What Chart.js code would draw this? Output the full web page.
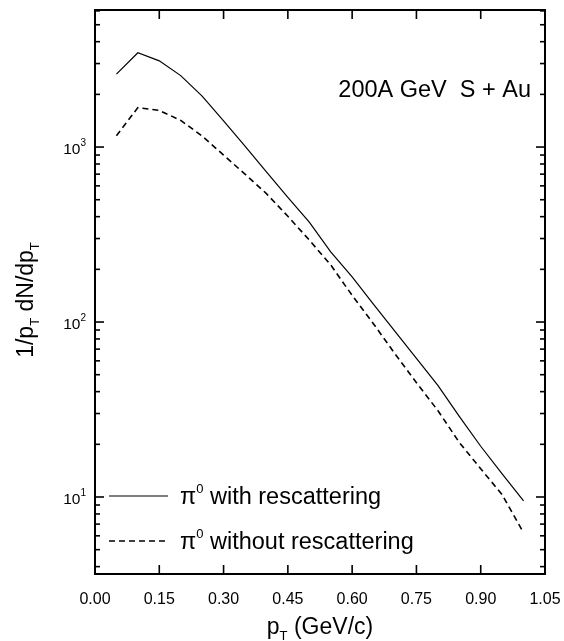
<!DOCTYPE html>
<html>
<head>
<meta charset="utf-8">
<script src="https://cdn.jsdelivr.net/npm/chart.js@4.4.1/dist/chart.umd.min.js"></script>
<style>
html, body { margin: 0; padding: 0; background: #fff; }
#wrap { width: 564px; height: 641px; }
</style>
</head>
<body>
<div id="wrap"><canvas id="graficaPiones" width="564" height="641"></canvas></div>
<script>
// datos
const pt = [0.05, 0.10, 0.15, 0.20, 0.25, 0.30, 0.35, 0.40, 0.45, 0.50,
            0.55, 0.60, 0.65, 0.70, 0.75, 0.80, 0.85, 0.90, 0.95, 1.00];
const conRescattering = [2610, 3460, 3110, 2560, 1955, 1413, 1011, 721, 516, 372,
                         252, 181, 126, 88.5, 61.9, 43.4, 28.9, 19.5, 13.55, 9.5];
const sinRescattering = [1160, 1680, 1620, 1420, 1156, 900, 700, 542, 402, 294,
                         212, 142, 97.5, 65.8, 45, 31.2, 20.5, 14.5, 10.3, 6.25];
const xTicks = [0, 0.15, 0.30, 0.45, 0.60, 0.75, 0.90, 1.05];
const yDecadas = [1, 10, 100, 1000];
const yEtiquetas = [10, 100, 1000];

const FUENTE = '"Liberation Sans", Arial, sans-serif';

const canvas = document.getElementById('graficaPiones');
const ctx = canvas.getContext('2d');

// texto con superindice o subindice
const textoPartes = (c, partes, x, y, align) => {
    let ancho = 0;
    partes.forEach(p => {
        c.font = p.size + 'px ' + FUENTE;
        ancho += c.measureText(p.t).width;
    });
    let cx = align === 'right' ? x - ancho : align === 'center' ? x - ancho / 2 : x;
    partes.forEach(p => {
        c.font = p.size + 'px ' + FUENTE;
        c.fillText(p.t, cx, y + (p.dy || 0));
        cx += c.measureText(p.t).width;
    });
};

const linea = (c, x1, y1, x2, y2) => {
    c.beginPath();
    c.moveTo(x1, y1);
    c.lineTo(x2, y2);
    c.stroke();
};

const marcoEjes = {
    id: 'marcoEjes',
    afterDraw(chart) {
        const { ctx: c, chartArea: a, scales: { x, y } } = chart;
        c.save();
        c.strokeStyle = '#000';
        c.fillStyle = '#000';
        c.lineWidth = 2;
        c.strokeRect(a.left, a.top, a.right - a.left, a.bottom - a.top);

        // ticks eje x (hacia adentro, arriba y abajo)
        c.lineWidth = 1.6;
        c.textBaseline = 'alphabetic';
        xTicks.forEach(v => {
            const px = x.getPixelForValue(v);
            linea(c, px, a.bottom, px, a.bottom - 9);
            linea(c, px, a.top, px, a.top + 9);
            textoPartes(c, [{ t: v.toFixed(2), size: 16 }], px, 604, 'center');
        });

        // ticks eje y logaritmico
        yDecadas.forEach(d => {
            for (let m = 1; m <= 9; m++) {
                const v = m * d;
                if (v < y.min || v > y.max) continue;
                const py = y.getPixelForValue(v);
                const largo = m === 1 ? 9 : 5;
                linea(c, a.left, py, a.left + largo, py);
                linea(c, a.right, py, a.right - largo, py);
            }
        });
        yEtiquetas.forEach(v => {
            const py = y.getPixelForValue(v);
            const exp = String(Math.round(Math.log10(v)));
            textoPartes(c, [{ t: '10', size: 15.5 }, { t: exp, size: 10, dy: -8 }], 86, py + 7, 'right');
        });

        // titulos de ejes
        textoPartes(c, [{ t: 'p', size: 23 }, { t: 'T', size: 13, dy: 6 }, { t: ' (GeV/c)', size: 23 }], 320, 634, 'center');
        c.save();
        c.translate(33, 300);
        c.rotate(-Math.PI / 2);
        textoPartes(c, [{ t: '1/p', size: 23 }, { t: 'T', size: 13, dy: 6 }, { t: ' dN/dp', size: 23 }, { t: 'T', size: 13, dy: 6 }], 0, 0, 'center');
        c.restore();

        // anotacion
        textoPartes(c, [{ t: '200A GeV  S + Au', size: 23.5 }], 531, 97, 'right');

        // leyenda
        c.lineWidth = 1.2;
        linea(c, 109, 496, 168, 496);
        c.lineWidth = 1.6;
        c.setLineDash([6, 4]);
        linea(c, 109, 541, 168, 541);
        c.setLineDash([]);
        textoPartes(c, [{ t: 'π', size: 23.5 }, { t: '0', size: 13, dy: -11 }, { t: ' with rescattering', size: 23.5 }], 180, 504, 'left');
        textoPartes(c, [{ t: 'π', size: 23.5 }, { t: '0', size: 13, dy: -11 }, { t: ' without rescattering', size: 23.5 }], 180, 549, 'left');
        c.restore();
    }
};

const chartPiones = new Chart(ctx, {
    type: 'line',
    data: {
        datasets: [{
            label: 'π0 with rescattering',
            data: pt.map((p, i) => ({ x: p, y: conRescattering[i] })),
            borderColor: '#000',
            borderWidth: 1.2,
            pointRadius: 0,
            tension: 0,
            fill: false
        }, {
            label: 'π0 without rescattering',
            data: pt.map((p, i) => ({ x: p, y: sinRescattering[i] })),
            borderColor: '#000',
            borderWidth: 1.6,
            borderDash: [6, 4],
            pointRadius: 0,
            tension: 0,
            fill: false
        }]
    },
    options: {
        responsive: false,
        animation: false,
        layout: { padding: { left: 95, top: 10, right: 19, bottom: 67 } },
        plugins: { legend: { display: false }, tooltip: { enabled: false } },
        scales: {
            x: { type: 'linear', min: 0, max: 1.05, display: false },
            y: { type: 'logarithmic', min: 3.63, max: 6070, display: false }
        }
    },
    plugins: [marcoEjes]
});
</script>
</body>
</html>
